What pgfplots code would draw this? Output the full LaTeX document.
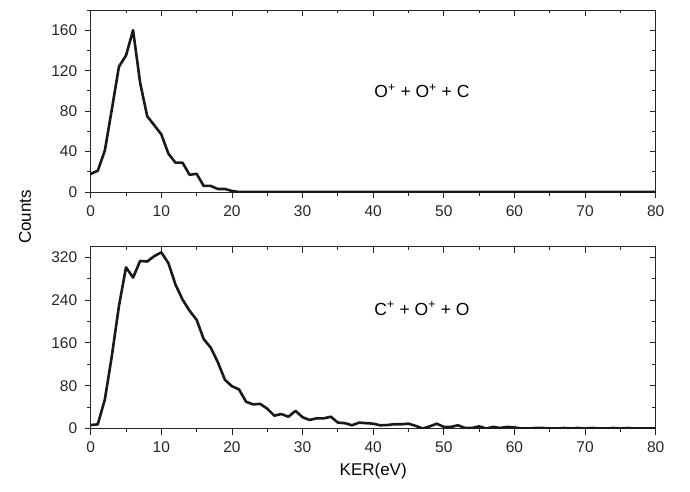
\documentclass[border=0pt]{standalone}
\usepackage{fontspec}
\setmainfont{Liberation Sans}
\usepackage{pgfplots}
\pgfplotsset{compat=1.18}
\begin{document}
\begin{tikzpicture}
\path[use as bounding box] (0pt,0pt) rectangle (690pt,491pt);
\pgfplotsset{
 panel/.style={scale only axis, width=565pt, height=182pt, xmin=0, xmax=80,
   xtick distance=10, minor x tick num=1, ymin=0, anchor=south west,
   /pgf/number format/assume math mode=true,
   ticklabel style={font=\fontsize{15.5}{18}\selectfont, text=black!85},
   xticklabel style={yshift=-4pt},
   yticklabel style={xshift=-4pt},
   major tick length=6pt, minor tick length=3.5pt,
   axis line style={line width=0.8pt, black!85},
   every tick/.style={line width=0.8pt, black!85}},
 mainax/.style={panel, tick align=outside, xtick pos=left, ytick pos=left},
 mirrorax/.style={panel, tick align=inside, xtick pos=right, ytick pos=right,
   xticklabels={}, yticklabels={}},
 dataline/.style={line width=2.6pt, black!90, line join=round},
}
% ---------- top panel ----------
\begin{axis}[mirrorax, at={(90.7pt,299pt)}, ymax=180, ytick distance=40, minor y tick num=1]
\end{axis}
\begin{axis}[mainax, at={(90.7pt,299pt)}, ymax=180, ytick distance=40, minor y tick num=1]
\addplot[dataline] coordinates {
(0,18) (1,21) (2,41) (3,82) (4,124) (5,135) (6,160) (7,108) (8,75) (9,66)
(10,57) (11,38) (12,29) (13,29) (14,17) (15,18) (16,6) (17,6) (18,3) (19,3)
(20,1) (21,0) (30,0) (40,0) (50,0) (60,0) (70,0) (80,0)
};
\node[font=\fontsize{17.5}{21}\selectfont] at (axis cs:46.9,100) {O\textsuperscript{+} + O\textsuperscript{+} + C};
\end{axis}
% ---------- bottom panel ----------
\begin{axis}[mirrorax, at={(90.7pt,62.5pt)}, ymax=340, ytick distance=80, minor y tick num=1]
\end{axis}
\begin{axis}[mainax, at={(90.7pt,62.5pt)}, ymax=340, ytick distance=80, minor y tick num=1,
  xlabel={KER(eV)}, xlabel style={font=\fontsize{17}{20}\selectfont, yshift=-3pt}]
\addplot[dataline] coordinates {
(0,6.5) (1,7.7) (2,54) (3,136) (4,229) (5,301) (6,282) (7,313) (8,312) (9,322)
(10,329) (11,309) (12,269) (13,241) (14,220) (15,203) (16,167) (17,151) (18,124) (19,91)
(20,79) (21,73) (22,50) (23,45) (24,46) (25,37) (26,24) (27,27) (28,22) (29,33)
(30,21) (31,16) (32,19) (33,19) (34,22) (35,11) (36,10) (37,6) (38,11) (39,10)
(40,9) (41,6) (42,6.5) (43,8) (44,8) (45,9) (46,5) (47,0) (48,4) (49,9)
(50,3) (51,3) (52,6) (53,1) (54,1) (55,4) (56,0) (57,3) (58,1) (59,3)
(60,2) (61,0) (62,0) (63,1) (64,1) (65,0) (66,0) (67,1) (68,0) (69,1)
(70,0) (71,1) (72,0) (73,0) (74,1) (75,0) (76,1) (77,0) (78,0) (79,0) (80,0)
};
\node[font=\fontsize{17.5}{21}\selectfont] at (axis cs:46.9,224) {C\textsuperscript{+} + O\textsuperscript{+} + O};
\end{axis}
\node[rotate=90, font=\fontsize{17}{20}\selectfont] at (25pt,274pt) {Counts};
\end{tikzpicture}
\end{document}
